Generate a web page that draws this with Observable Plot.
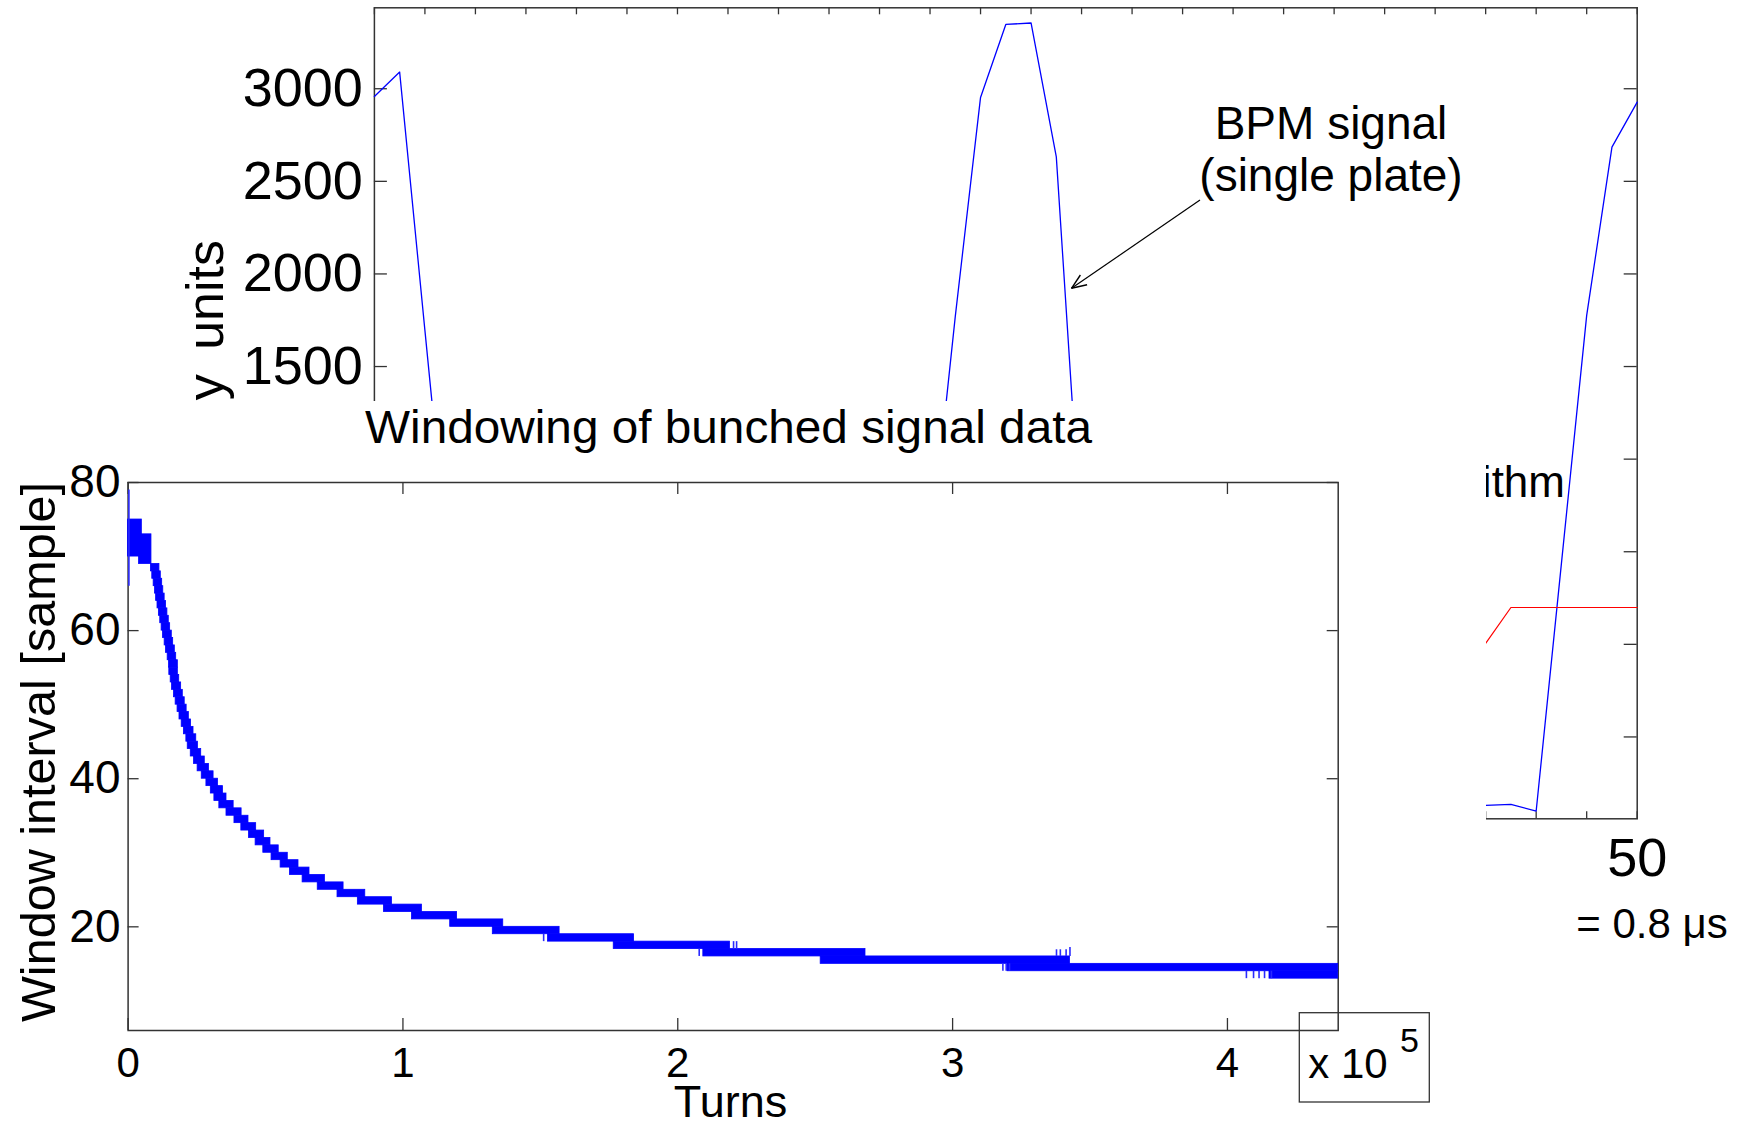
<!DOCTYPE html>
<html><head><meta charset="utf-8">
<script src="https://cdn.jsdelivr.net/npm/d3@7"></script>
<script src="https://cdn.jsdelivr.net/npm/@observablehq/plot@0.6"></script>
<style>
html,body{margin:0;padding:0;background:#fff;}
#root{position:relative;width:1747px;height:1128px;overflow:hidden;background:#fff;}
#root svg{position:absolute;left:0;top:0;max-width:none;}
#inset{position:absolute;left:0;top:401px;width:1486px;height:727px;background:#fff;overflow:hidden;}
</style></head><body><div id="root"></div>
<script>
// ---------- background chart data (BPM signal, single plate) ----------
const bpmSample = [0,1,2,3,4,5,6,7,8,9,10,11,12,13,14,15,16,17,18,19,20,21,22,23,24,25,26,27,28,29,30,31,32,33,34,35,36,37,38,39,40,41,42,43,44,45,46,47,48,49,50];
const bpmSignal = [2958,3090,1695,310,-640,-850,-885,-875,-860,-870,-880,-875,-865,-870,-880,-870,-860,-875,-880,-850,-720,-310,486,1771,2953,3347,3355,2632,530,-520,-820,-870,-880,-875,-865,-870,-880,-870,-860,-875,-880,-870,-865,-875,-870,-864,-900,437,1776,2685,2928];
const algSample = [43,44,45,46,47,48,49,50];
const algSignal = [-190,5,199,199,199,199,199,199];
const bgYTicks = [-500,0,500,1000,1500,2000,2500,3000];
const bgXTicks = [0,2,4,6,8,10,12,14,16,18,20,22,24,26,28,30,32,34,36,38,40,42,44,46,48,50];
const bgXLabels = [0,10,20,30,40,50];

// ---------- inset data (window interval vs turns) ----------
const segStart = [0,4000,8300,8800,9300,9800,10200,10700,11200,11700,12200,12700,13300,13800,14400,14900,15000,15500,16000,16700,17300,18000,18700,19500,20300,21200,21700,22800,24000,25300,26800,28500,30100,31400,33200,35800,38700,41200,44000,46400,49200,52200,55500,58900,63500,69000,76200,83600,93100,103300,117200,132700,152800,176700,209300,252000,320000,415300];
const segEnd = [5000,8500,11400,11900,12400,12800,13300,13800,14300,14800,15300,15900,16400,17000,17500,18100,18100,18600,19300,19900,20600,21300,22100,22900,23800,24800,25400,26600,27900,29400,31100,32700,34500,35800,38400,41300,43800,46600,49500,51800,54800,58100,62000,66000,71600,78400,86300,96000,106900,119700,136500,157000,184100,219000,268300,342700,440300,440300];
const segLow = [70,69,68,67,66,65,64,63,62,61,60,59,58,57,56,55,54,53,52,51,50,49,48,47,46,45,44,43,42,41,40,39,38,37,36,35,34,33,32,31,30,29,28,27,26,25,24,23,22,21,20,19,18,17,16,15,14,13];
const segHigh = [75,73,69,68,67,66,65,64,63,62,61,60,59,58,57,56,55,54,53,52,51,50,49,48,47,46,45,44,43,42,41,40,39,38,37,36,35,34,33,32,31,30,29,28,27,26,25,24,23,22,21,20,19,18,17,16,15,14];
const spikeTurn = [300,151200,207800,220300,221400,318300,319500,320700,337800,339200,341300,342700,406900,409500,411500,413500,416000];
const spikeFrom = [66,18,16,17,17,14,14,14,16,16,16,16,13,13,13,13,13];
const spikeTo   = [79,19,17,18,18,15,15,15,16.9,16.9,16.9,17.2,14,14,14,14,14];
const insetXTicks = [0,100000,200000,300000,400000];
const insetYTicks = [20,40,60,80];

const FONT = "'Liberation Sans', Arial, Helvetica, sans-serif";
const AX = "#333";
const root = document.getElementById("root");

// ---------- background chart ----------
const bgM = {l:373.9, r:110.3, t:7.3, b:309.7};
const bgW = 1747 - bgM.l - bgM.r, bgH = 1128 - bgM.t - bgM.b;
const bpm = bpmSample.map((s,i)=>({s, v:bpmSignal[i]}));
const alg = algSample.map((s,i)=>({s, v:algSignal[i]}));
const bgPlot = Plot.plot({
  width:1747, height:1128,
  marginLeft:bgM.l, marginRight:bgM.r, marginTop:bgM.t, marginBottom:bgM.b,
  style:{fontFamily:FONT, background:"transparent", color:"#000"},
  x:{domain:[0,50]}, y:{domain:[-942,3437]},
  marks:[
    Plot.frame({stroke:AX, strokeWidth:1.5}),
    Plot.ruleY(bgYTicks,{y:d=>d, insetRight:bgW-13, stroke:AX, strokeWidth:1.3}),
    Plot.ruleY(bgYTicks,{y:d=>d, insetLeft:bgW-13, stroke:AX, strokeWidth:1.3}),
    Plot.ruleX(bgXTicks,{x:d=>d, insetBottom:bgH-7, stroke:AX, strokeWidth:1.3}),
    Plot.ruleX(bgXTicks,{x:d=>d, insetTop:bgH-7, stroke:AX, strokeWidth:1.3}),
    Plot.line(bpm,{x:"s", y:"v", stroke:"#0000ff", strokeWidth:1.3}),
    Plot.line(alg,{x:"s", y:"v", stroke:"#ff0000", strokeWidth:1.2}),
    Plot.axisY({ticks:bgYTicks, tickSize:0, tickPadding:11.5, fontSize:54, label:null, tickFormat:d=>String(d)}),
    Plot.axisX({ticks:bgXLabels, tickSize:0, tickPadding:18.4, fontSize:54, label:null, tickFormat:d=>String(d)})
  ]
});
root.appendChild(bgPlot);

// background annotations
const ann = d3.create("svg").attr("width",1747).attr("height",1128)
  .style("font-family",FONT).attr("fill","#000");
ann.append("text").attr("x",1331).attr("y",139).attr("text-anchor","middle")
  .attr("font-size",46).text("BPM signal");
ann.append("text").attr("x",1331).attr("y",191).attr("text-anchor","middle")
  .attr("font-size",46).text("(single plate)");
{
  const x0=1200, y0=200, x1=1071.5, y1=288.3;
  const ang = Math.atan2(y0-y1, x0-x1), L=16, a=0.38;
  ann.append("line").attr("x1",x0).attr("y1",y0).attr("x2",x1).attr("y2",y1)
    .attr("stroke","#000").attr("stroke-width",1.2);
  for (const s of [-1,1]) {
    ann.append("line").attr("x1",x1).attr("y1",y1)
      .attr("x2",x1+L*Math.cos(ang+s*a)).attr("y2",y1+L*Math.sin(ang+s*a))
      .attr("stroke","#000").attr("stroke-width",1.4);
  }
}
ann.append("text").attr("x",1652).attr("y",938).attr("text-anchor","middle")
  .attr("font-size",42).text("= 0.8 μs");
ann.append("text").attr("x",1565).attr("y",497).attr("text-anchor","end")
  .attr("font-size",44).text("Windowing algorithm");
ann.append("text").attr("transform","translate(223,240) rotate(-90)").attr("text-anchor","end")
  .attr("font-size",52).style("word-spacing","10px").text("Arbitrary units");
root.appendChild(ann.node());

// ---------- inset chart ----------
const inset = document.createElement("div");
inset.id = "inset";
root.appendChild(inset);

const inM = {l:127.6, r:148.3, t:81, b:98};
const inW = 1486 - inM.l - inM.r, inH = 727 - inM.t - inM.b;
const segs = segStart.map((t0,i)=>({t0, t1:segEnd[i], lo:segLow[i], hi:segHigh[i]}));
const spikes = spikeTurn.map((t,i)=>({t, a:spikeFrom[i], b:spikeTo[i]}));
const inPlot = Plot.plot({
  width:1486, height:727,
  marginLeft:inM.l, marginRight:inM.r, marginTop:inM.t, marginBottom:inM.b,
  style:{fontFamily:FONT, background:"transparent", color:"#000"},
  x:{domain:[0,440300]}, y:{domain:[6,80]},
  marks:[
    Plot.frame({stroke:AX, strokeWidth:1.5}),
    Plot.ruleY(insetYTicks,{y:d=>d, insetRight:inW-11, stroke:AX, strokeWidth:1.3}),
    Plot.ruleY(insetYTicks,{y:d=>d, insetLeft:inW-11, stroke:AX, strokeWidth:1.3}),
    Plot.ruleX(insetXTicks,{x:d=>d, insetBottom:inH-12, stroke:AX, strokeWidth:1.3}),
    Plot.ruleX(insetXTicks,{x:d=>d, insetTop:inH-12, stroke:AX, strokeWidth:1.3}),
    Plot.rect(segs,{x1:"t0", x2:"t1", y1:"lo", y2:"hi", fill:"#0000ff", stroke:"#0000ff", strokeWidth:0.8}),
    Plot.ruleX(spikes,{x:"t", y1:"a", y2:"b", stroke:"#2a2aff", strokeWidth:1.6}),
    Plot.axisY({ticks:insetYTicks, tickSize:0, tickPadding:7.6, fontSize:46, label:null}),
    Plot.axisX({ticks:insetXTicks, tickSize:0, tickPadding:16.9, fontSize:42, label:null, tickFormat:d=>String(d/1e5)})
  ]
});
inset.appendChild(inPlot);

const ia = d3.create("svg").attr("width",1486).attr("height",727)
  .style("font-family",FONT).attr("fill","#000");
ia.append("text").attr("x",365).attr("y",42.3).attr("font-size",46)
  .attr("textLength",727).attr("lengthAdjust","spacingAndGlyphs")
  .text("Windowing of bunched signal data");
ia.append("text").attr("transform","translate(55,351) rotate(-90)").attr("text-anchor","middle")
  .attr("font-size",48).attr("textLength",540).attr("lengthAdjust","spacingAndGlyphs")
  .text("Window interval [sample]");
ia.append("text").attr("x",730.5).attr("y",716).attr("text-anchor","middle")
  .attr("font-size",45).text("Turns");
ia.append("rect").attr("x",1299.3).attr("y",611.7).attr("width",130).attr("height",89.3)
  .attr("fill","none").attr("stroke",AX).attr("stroke-width",1.3);
ia.append("text").attr("x",1308.3).attr("y",677.3).attr("font-size",42).text("x 10");
ia.append("text").attr("x",1400).attr("y",650.7).attr("font-size",34).text("5");
inset.appendChild(ia.node());
</script>
</body></html>
